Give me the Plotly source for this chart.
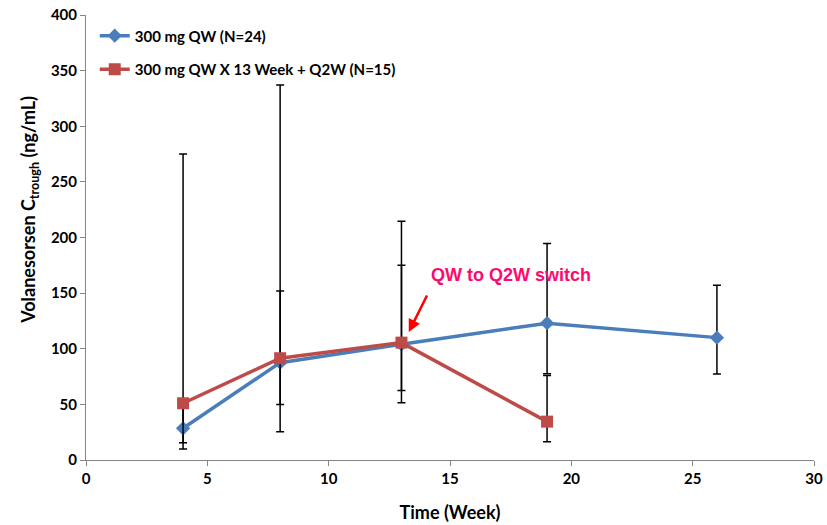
import plotly.graph_objects as go

# Data
weeks_qw = [4, 8, 13, 19, 26]
mean_qw = [28.5, 87.5, 104, 123, 110]
upper_qw = [52, 152, 175, 194.5, 157]
lower_qw = [15.5, 50, 62.5, 77.5, 77.3]

weeks_q2w = [4, 8, 13, 19]
mean_q2w = [51, 91.5, 105.5, 34.5]
upper_q2w = [275, 337, 214.5, 76]
lower_q2w = [10, 25.5, 51.5, 16.5]

x_ticks = [0, 5, 10, 15, 20, 25, 30]
y_ticks = [0, 50, 100, 150, 200, 250, 300, 350, 400]

FONT = "Lato"
BLUE = "#4A7EBB"
RED = "#BE4B48"

fig = go.Figure()

fig.add_trace(go.Scatter(
    x=weeks_qw, y=mean_qw, mode="lines+markers",
    name="<b>300 mg QW (N=24)</b>", legendgroup="a",
    line=dict(color=BLUE, width=3.5),
    marker=dict(symbol="diamond", size=11, color=BLUE),
    error_y=dict(type="data", symmetric=False,
                 array=[u - m for u, m in zip(upper_qw, mean_qw)],
                 arrayminus=[m - l for m, l in zip(mean_qw, lower_qw)],
                 color="black", thickness=1.5, width=4),
))
fig.add_trace(go.Scatter(
    x=weeks_q2w, y=mean_q2w, mode="lines+markers",
    name="<b>300 mg QW X 13 Week + Q2W (N=15)</b>", legendgroup="b",
    line=dict(color=RED, width=3.5),
    marker=dict(symbol="square", size=12, color=RED),
    error_y=dict(type="data", symmetric=False,
                 array=[u - m for u, m in zip(upper_q2w, mean_q2w)],
                 arrayminus=[m - l for m, l in zip(mean_q2w, lower_q2w)],
                 color="black", thickness=1.5, width=4),
))

fig.add_annotation(x=17.5, y=166, text="<b>QW to Q2W switch</b>", showarrow=False,
                   font=dict(family="Liberation Sans", size=18, color="#FF0A6C"))
fig.add_annotation(x=13.3, y=115, text="", showarrow=True, arrowhead=2, arrowsize=1,
                   arrowwidth=2.5, arrowcolor="#FF0000", ax=19, ay=-38)

# y-axis title (placed as annotation to match the reference's vertical offset)
fig.add_annotation(xref="paper", yref="paper", x=-0.077, y=0.562, xanchor="center", yanchor="middle",
                   text="<b>Volanesorsen C<sub>trough</sub> (ng/mL)</b>", textangle=-90, showarrow=False,
                   font=dict(family=FONT, size=18, color="black"))

axis_common = dict(showgrid=False, zeroline=False, showline=True, automargin=False,
                   linecolor="#868686", linewidth=1, ticks="outside",
                   tickcolor="#868686", ticklen=5,
                   tickfont=dict(family=FONT, size=15, color="black"))

fig.update_xaxes(range=[0, 30], tickvals=x_ticks, ticktext=[f"<b>{v}</b>" for v in x_ticks],
                 title=dict(text="<b>Time (Week)</b>", font=dict(family=FONT, size=18, color="black"), standoff=20),
                 **axis_common)
fig.update_yaxes(range=[0, 400], tickvals=y_ticks, ticktext=[f"<b>{v}</b>" for v in y_ticks],
                 **axis_common)

fig.update_layout(
    width=827, height=525,
    margin=dict(l=86, r=13, t=15, b=65, autoexpand=False),
    plot_bgcolor="white", paper_bgcolor="white",
    showlegend=True,
    legend=dict(x=0.012, y=0.99, xanchor="left", yanchor="top",
                font=dict(family=FONT, size=15, color="black"),
                bgcolor="rgba(0,0,0,0)", traceorder="grouped", tracegroupgap=11),
)

fig.write_html("out.html")
